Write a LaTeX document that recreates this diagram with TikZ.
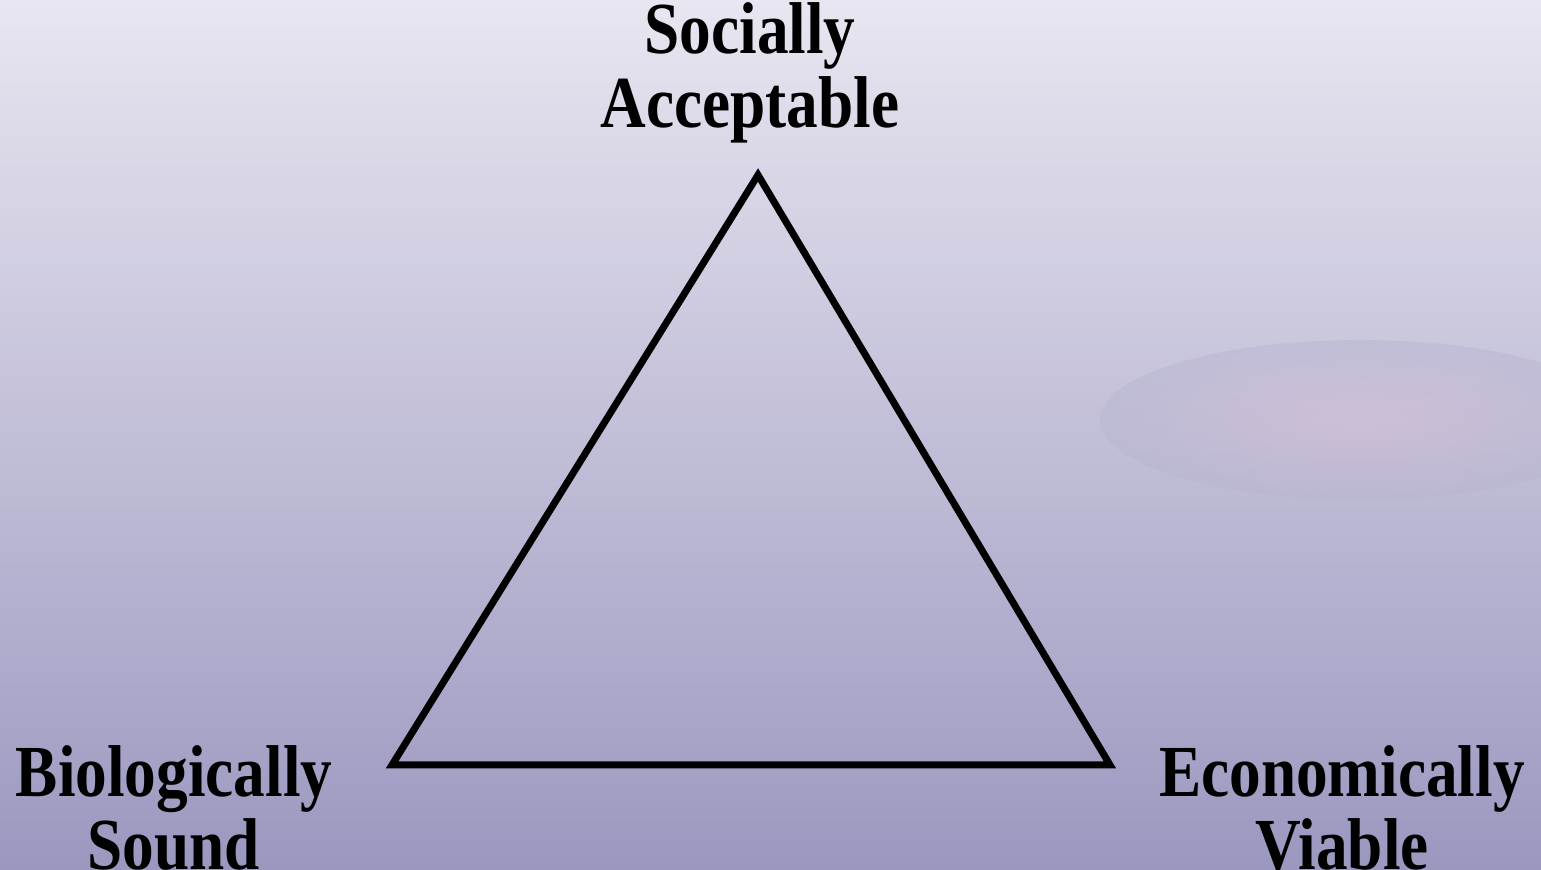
\documentclass[tikz,border=0pt]{standalone}
\usepackage{fontspec}
\setmainfont{Liberation Serif}
\definecolor{skytop}{HTML}{E8E6F0}
\definecolor{skymid}{HTML}{B9B6D3}
\definecolor{skylow}{HTML}{9B98C0}
\definecolor{cloudpink}{HTML}{D6BFD3}
\tikzset{
  corner/.style={font=\fontsize{18}{18}\selectfont\bfseries, align=center,
    inner sep=0pt, yscale=1.16, transform shape},
  side/.style={line width=2pt}
}
\begin{document}
\begin{tikzpicture}
    % background
    \useasboundingbox (0,0) rectangle (15.41,8.70);
    \clip (0,0) rectangle (15.41,8.70);
    \shade[top color=skytop, middle color=skymid, bottom color=skylow] (0,0) rectangle (15.41,8.70);
    \shade[inner color=cloudpink, outer color=skymid, opacity=0.5] (13.6,4.5) ellipse (2.6cm and 0.8cm);
    \coordinate (t) at (7.58, 6.95);
    \coordinate (l) at (3.92, 1.05);
    \coordinate (r) at (11.10, 1.05);
    \node[corner] (soc) at (7.50, 7.97) {Socially\\Acceptable};
    \node[corner] (bio) at (1.74, 0.62) {Biologically\\Sound};
    \node[corner] (eco) at (13.42, 0.62) {Economically\\Viable};
    \draw[side] (t) -- (l) -- (r) -- cycle;
  \end{tikzpicture}
\end{document}
